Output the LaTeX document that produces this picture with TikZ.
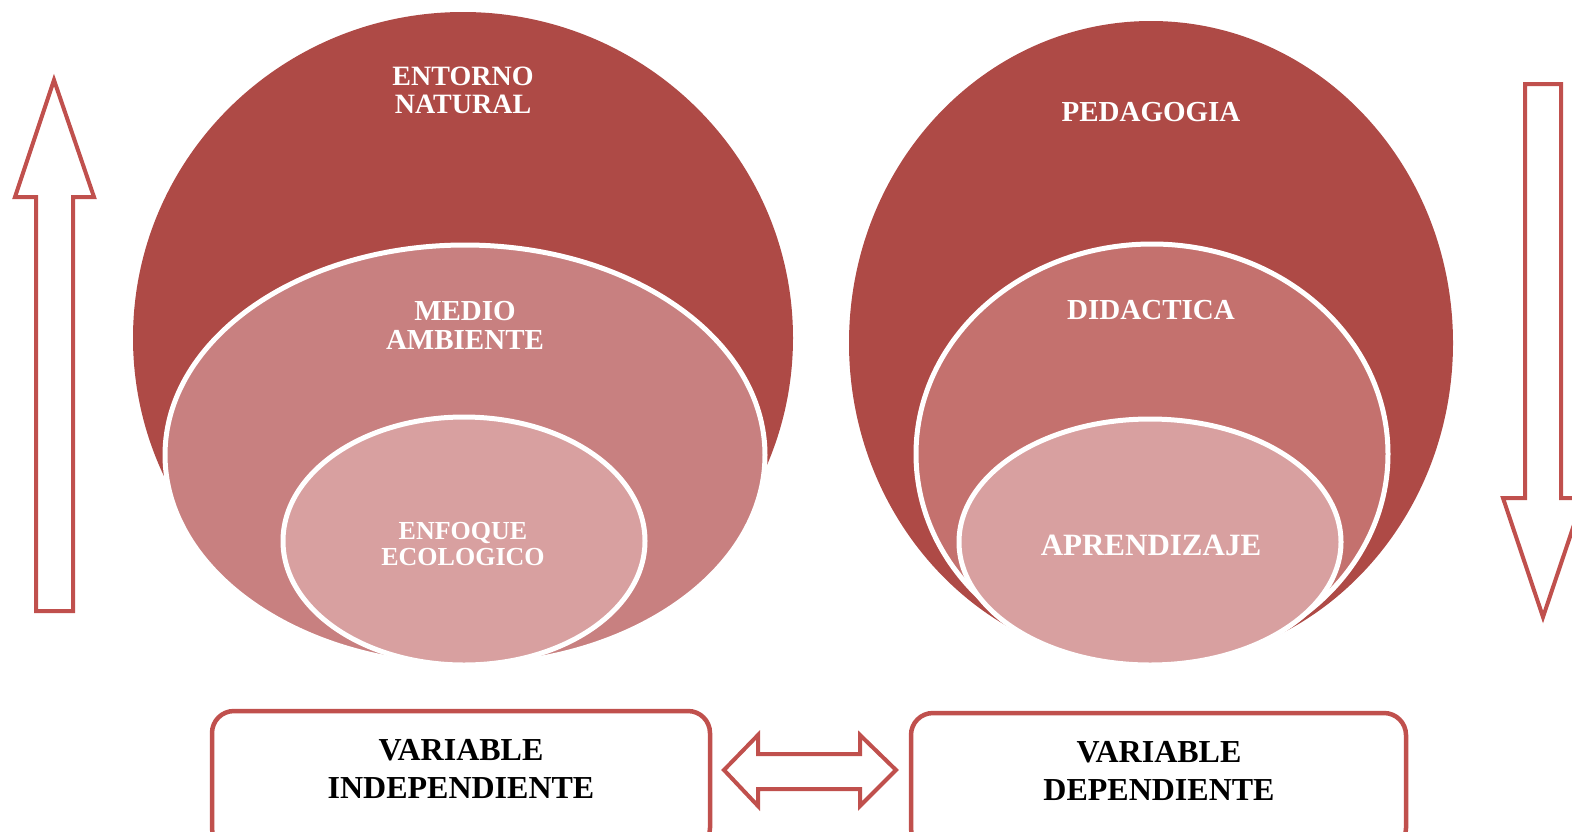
\documentclass[tikz,border=0pt]{standalone}
\usepackage{fontspec}
\setmainfont{Liberation Serif}
\definecolor{bigc}{HTML}{AE4A46}
\definecolor{medL}{HTML}{C88080}
\definecolor{medR}{HTML}{C4716E}
\definecolor{innc}{HTML}{D8A0A0}
\definecolor{linec}{HTML}{C0504D}
\tikzset{
  wtxt/.style={text=white, align=center, inner sep=0pt, font=\bfseries\fontsize{#1}{#1}\selectfont},
  btxt/.style={text=black, align=center, inner sep=0pt, font=\bfseries\fontsize{32}{38}\selectfont},
  ring/.style={draw=white, line width=5pt},
  outl/.style={draw=linec, line width=4pt, line join=miter, fill=white},
  varbox/.style={draw=linec, line width=4.5pt, rounded corners=22pt, fill=white}
}
\begin{document}
\begin{tikzpicture}[x=1pt,y=-1pt]
\useasboundingbox (0,0) rectangle (1572,831);
\clip (0,0) rectangle (1572,831);
% left stacked venn
\fill[bigc] (463,338) ellipse [x radius=330pt, y radius=326pt];
\filldraw[ring, fill=medL] (465,455) ellipse [x radius=300pt, y radius=210pt];
\filldraw[ring, fill=innc] (464,541) ellipse [x radius=181pt, y radius=124pt];
% right stacked venn
\fill[bigc] (1151,343) ellipse [x radius=302pt, y radius=322pt];
\filldraw[ring, fill=medR] (1152,454) ellipse [x radius=236pt, y radius=210pt];
\filldraw[ring, fill=innc] (1150,542) ellipse [x radius=191pt, y radius=123pt];
% texts
\node[wtxt=28] (entorno) at (463,90) {ENTORNO\\NATURAL};
\node[wtxt=29] (medio) at (465,325) {MEDIO\\AMBIENTE};
\node[wtxt=26] (enfoque) at (463,544.5) {ENFOQUE\\ECOLOGICO};
\node[wtxt=29] (pedagogia) at (1151,112) {PEDAGOGIA};
\node[wtxt=29] (didactica) at (1151,310) {DIDACTICA};
\node[wtxt=31] (aprend) at (1151,545) {APRENDIZAJE};
% side arrows
\draw[outl] (36,611) -- (36,197) -- (15,197) -- (54,80) -- (94,197) -- (73,197) -- (73,611) -- cycle;
\draw[outl] (1525,84) -- (1561,84) -- (1561,498) -- (1583,498) -- (1543,617) -- (1503,498) -- (1525,498) -- cycle;
% variable boxes
\draw[varbox] (212,711) rectangle (710,850);
\draw[varbox] (911,713) rectangle (1406,850);
\node[btxt] (vi) at (461,769) {VARIABLE\\INDEPENDIENTE};
\node[btxt] (vd) at (1159,771) {VARIABLE\\DEPENDIENTE};
% double arrow
\draw[outl] (724,770) -- (758,735) -- (758,754) -- (860,754) -- (860,735) -- (896,770) -- (860,806) -- (860,789) -- (758,789) -- (758,806) -- cycle;
\end{tikzpicture}
\end{document}
